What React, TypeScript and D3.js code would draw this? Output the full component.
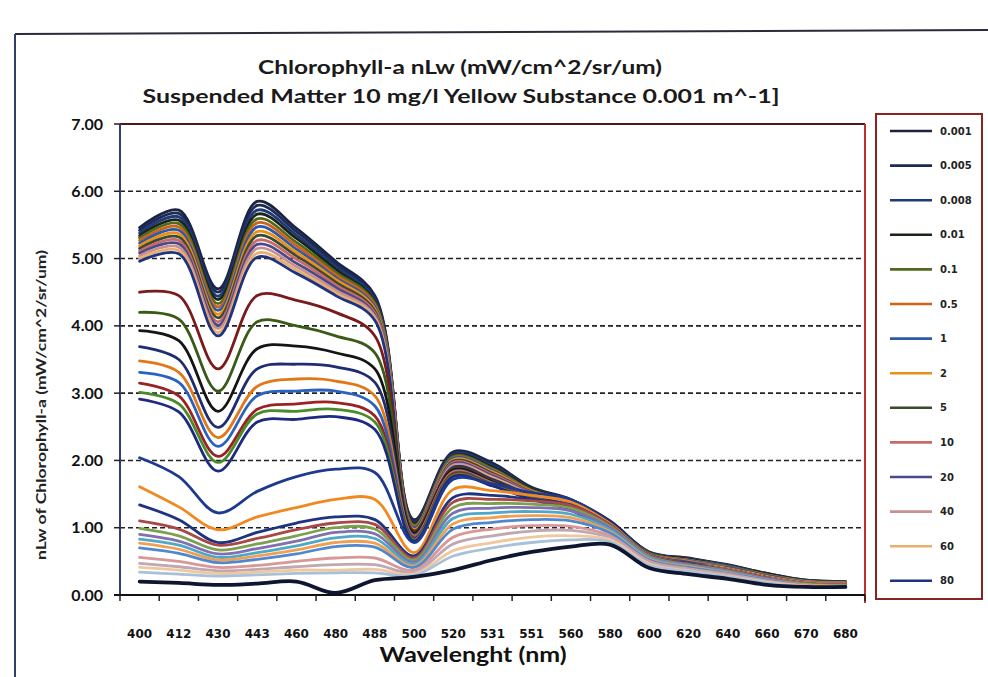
import React from "react";
import * as d3 from "d3";

// ---------- data ----------
const wavelengths = ["400","412","430","443","460","480","488","500","520","531","551","560","580","600","620","640","660","670","680"];
const yTicks = [0, 1, 2, 3, 4, 5, 6, 7];
const gridValues = [1, 2, 3, 4, 5, 6];

const legendLabels = ["0.001","0.005","0.008","0.01","0.1","0.5","1","2","5","10","20","40","60","80"];

// upper bundle (first 14 series, the ones listed in the legend)
const bundleSeries: number[][] = [
  [5.46,5.72,4.55,5.85,5.45,4.96,4.45,1.12,2.13,1.96,1.60,1.42,1.10,0.64,0.55,0.45,0.32,0.22,0.20],
  [5.42,5.67,4.50,5.79,5.40,4.92,4.42,1.10,2.11,1.94,1.59,1.41,1.09,0.63,0.54,0.44,0.32,0.22,0.20],
  [5.38,5.62,4.44,5.72,5.35,4.88,4.39,1.08,2.09,1.92,1.58,1.40,1.08,0.63,0.54,0.44,0.31,0.21,0.19],
  [5.34,5.57,4.39,5.66,5.30,4.84,4.36,1.06,2.07,1.90,1.57,1.40,1.07,0.62,0.53,0.43,0.31,0.21,0.19],
  [5.31,5.52,4.33,5.59,5.24,4.80,4.34,1.04,2.06,1.88,1.56,1.39,1.06,0.62,0.52,0.43,0.30,0.21,0.19],
  [5.27,5.47,4.28,5.53,5.19,4.76,4.31,1.02,2.04,1.86,1.55,1.38,1.05,0.61,0.52,0.42,0.30,0.20,0.18],
  [5.23,5.42,4.23,5.47,5.14,4.72,4.28,1.00,2.03,1.85,1.54,1.37,1.04,0.60,0.51,0.42,0.29,0.20,0.18],
  [5.19,5.37,4.17,5.40,5.09,4.69,4.25,0.97,2.01,1.83,1.54,1.37,1.04,0.60,0.50,0.41,0.29,0.20,0.18],
  [5.15,5.32,4.12,5.34,5.04,4.65,4.22,0.95,1.99,1.81,1.53,1.36,1.03,0.59,0.49,0.41,0.29,0.19,0.17],
  [5.11,5.27,4.06,5.27,4.99,4.61,4.19,0.93,1.97,1.79,1.52,1.35,1.02,0.59,0.49,0.40,0.28,0.19,0.17],
  [5.08,5.22,4.01,5.21,4.93,4.57,4.16,0.91,1.95,1.77,1.51,1.34,1.01,0.58,0.48,0.40,0.28,0.18,0.16],
  [5.04,5.17,3.96,5.15,4.88,4.53,4.14,0.89,1.93,1.75,1.50,1.34,1.00,0.57,0.47,0.39,0.27,0.18,0.16],
  [5.00,5.12,3.90,5.08,4.83,4.49,4.11,0.87,1.91,1.74,1.49,1.33,0.99,0.57,0.47,0.39,0.27,0.17,0.15],
  [4.96,5.07,3.85,5.02,4.78,4.45,4.08,0.85,1.90,1.72,1.48,1.32,0.98,0.56,0.46,0.38,0.26,0.17,0.15],
];
const bundleColors = ["#1c2340","#1c2a55","#1f3a7a","#1a2418","#4f6a1e","#d0601a","#2a5aa8","#e8901a","#3c4a30","#c86a6a","#4a4a8a","#c89090","#e8b070","#1f3480"];

// middle separated lines
const middleSeries: number[][] = [
  [4.50,4.45,3.36,4.45,4.38,4.20,3.85,0.95,1.88,1.70,1.47,1.31,0.97,0.56,0.46,0.38,0.26,0.17,0.15],
  [4.20,4.10,3.03,4.06,4.00,3.85,3.60,0.93,1.87,1.69,1.47,1.31,0.97,0.56,0.46,0.38,0.26,0.17,0.15],
  [3.93,3.78,2.73,3.66,3.70,3.60,3.36,0.92,1.86,1.68,1.46,1.30,0.96,0.55,0.45,0.37,0.25,0.16,0.14],
  [3.69,3.50,2.49,3.36,3.43,3.39,3.16,0.90,1.84,1.67,1.46,1.30,0.96,0.55,0.45,0.37,0.25,0.16,0.14],
  [3.48,3.31,2.34,3.10,3.21,3.18,2.96,0.88,1.83,1.66,1.45,1.29,0.95,0.55,0.45,0.37,0.25,0.16,0.14],
  [3.31,3.16,2.21,2.96,3.03,3.03,2.81,0.86,1.81,1.65,1.45,1.29,0.95,0.54,0.44,0.36,0.25,0.16,0.14],
  [3.15,2.96,2.06,2.76,2.84,2.86,2.66,0.84,1.80,1.64,1.44,1.28,0.94,0.54,0.44,0.36,0.24,0.15,0.13],
  [3.01,2.84,1.97,2.69,2.73,2.76,2.57,0.82,1.78,1.63,1.43,1.27,0.94,0.54,0.44,0.36,0.24,0.15,0.13],
  [2.91,2.72,1.84,2.57,2.61,2.65,2.46,0.80,1.76,1.62,1.42,1.26,0.93,0.53,0.43,0.35,0.24,0.15,0.13],
];
const middleColors = ["#7a1a1a","#3a5a18","#151515","#1e2c70","#e07818","#2a62c0","#9a2222","#4a8a2a","#1e2a80"];

// lower separated lines
const lowerSeries: number[][] = [
  [2.04,1.76,1.22,1.54,1.76,1.87,1.82,0.78,1.72,1.65,1.52,1.42,1.08,0.60,0.48,0.38,0.26,0.17,0.15],
  [1.61,1.31,0.97,1.16,1.30,1.42,1.42,0.63,1.57,1.55,1.48,1.38,1.06,0.59,0.47,0.38,0.26,0.17,0.15],
  [1.34,1.12,0.78,0.93,1.07,1.16,1.12,0.58,1.45,1.48,1.42,1.34,1.04,0.58,0.47,0.37,0.25,0.16,0.14],
];
const lowerColors = ["#1e3a90","#f08a20","#1e3480"];

// pale band near the bottom
const paleSeries: number[][] = [
  [1.10,0.98,0.74,0.84,0.97,1.07,1.05,0.55,1.38,1.42,1.40,1.33,1.04,0.58,0.46,0.37,0.25,0.16,0.14],
  [0.99,0.88,0.67,0.76,0.88,1.00,0.98,0.52,1.30,1.36,1.35,1.29,1.02,0.57,0.45,0.36,0.24,0.16,0.14],
  [0.90,0.80,0.61,0.69,0.80,0.93,0.91,0.49,1.22,1.29,1.30,1.25,1.00,0.56,0.44,0.35,0.24,0.15,0.13],
  [0.83,0.74,0.56,0.63,0.73,0.85,0.84,0.46,1.14,1.22,1.24,1.20,0.97,0.55,0.43,0.34,0.23,0.15,0.13],
  [0.77,0.68,0.52,0.58,0.67,0.78,0.77,0.43,1.06,1.15,1.18,1.15,0.94,0.53,0.42,0.33,0.22,0.15,0.13],
  [0.70,0.62,0.48,0.53,0.61,0.72,0.71,0.41,0.98,1.08,1.12,1.10,0.92,0.52,0.41,0.32,0.22,0.14,0.12],
  [0.56,0.50,0.41,0.44,0.50,0.55,0.55,0.37,0.86,0.98,1.03,1.02,0.88,0.50,0.39,0.31,0.21,0.14,0.12],
  [0.47,0.42,0.36,0.38,0.42,0.45,0.45,0.34,0.76,0.88,0.95,0.96,0.85,0.48,0.38,0.30,0.20,0.13,0.12],
  [0.41,0.37,0.32,0.34,0.37,0.37,0.38,0.31,0.66,0.78,0.86,0.88,0.82,0.46,0.36,0.28,0.19,0.13,0.11],
  [0.34,0.31,0.28,0.30,0.32,0.33,0.33,0.29,0.58,0.70,0.78,0.82,0.79,0.44,0.35,0.27,0.18,0.12,0.11],
];
const paleColors = ["#a84848","#7aa050","#8070b0","#50a8c8","#f0a050","#5088d0","#d89898","#c0a8b0","#f0c8a0","#a8c0d8"];

// lowest dark line
const baseSeries: number[] = [0.20,0.18,0.15,0.17,0.20,0.03,0.22,0.27,0.37,0.52,0.64,0.72,0.75,0.40,0.31,0.24,0.15,0.12,0.12];
const baseColor = "#0e1630";

// ---------- layout ----------
const W = 988, H = 677;
const PL = 120, PR = 865, PT = 124, PB = 595;

export default function App() {
  const x = d3.scaleBand<string>().domain(wavelengths).range([PL, PR]).paddingInner(0).paddingOuter(0);
  const y = d3.scaleLinear().domain([0, 7]).range([PB, PT]);
  const cx = (i: number) => (x(wavelengths[i]) as number) + x.bandwidth() / 2;
  const line = d3.line<number>().x((_, i) => cx(i)).y(d => y(d)).curve(d3.curveCatmullRom.alpha(0.5));

  const all: { vals: number[]; color: string; w: number }[] = [
    ...bundleSeries.map((v, i) => ({ vals: v, color: bundleColors[i], w: 2.8 })),
    ...middleSeries.map((v, i) => ({ vals: v, color: middleColors[i], w: 2.8 })),
    ...lowerSeries.map((v, i) => ({ vals: v, color: lowerColors[i], w: 2.8 })),
    ...paleSeries.map((v, i) => ({ vals: v, color: paleColors[i], w: 2.8 })),
    { vals: baseSeries, color: baseColor, w: 3.8 },
  ];

  const boundaries = [...wavelengths.map(w => x(w) as number), PR];
  const legendTop = 131, legendStep = 34.6;

  return (
    <svg width={W} height={H} style={{ position: "absolute", left: 0, top: 0, background: "#fff" }}
      fontFamily="Lato, 'Open Sans', sans-serif">
      <rect x={0} y={0} width={W} height={H} fill="#fff" />
      {/* outer chart frame */}
      <line x1={15} y1={34} x2={988} y2={30} stroke="#2b2b3a" strokeWidth={2} />
      <line x1={15} y1={34} x2={15} y2={677} stroke="#2d3f6a" strokeWidth={2} />

      {/* titles */}
      <text x={460} y={74} textAnchor="middle" fontSize={18} fontWeight="bold" fill="#1a1a1a"
        textLength={404} lengthAdjust="spacingAndGlyphs">Chlorophyll-a nLw (mW/cm^2/sr/um)</text>
      <text x={461} y={103} textAnchor="middle" fontSize={18} fontWeight="bold" fill="#1a1a1a"
        textLength={637} lengthAdjust="spacingAndGlyphs">Suspended Matter 10 mg/l  Yellow Substance 0.001 m^-1]</text>

      {/* gridlines */}
      {gridValues.map(v => (
        <line key={v} x1={PL} x2={PR} y1={y(v)} y2={y(v)} stroke="#222" strokeWidth={1.6} strokeDasharray="5,3" />
      ))}

      {/* plot border */}
      <line x1={PL} x2={PR} y1={PT} y2={PT} stroke="#4a1a1a" strokeWidth={2} />
      <line x1={PR} x2={PR} y1={PT} y2={PB + 8} stroke="#c0302a" strokeWidth={2} />

      {/* series */}
      {all.map((s, i) => (
        <path key={i} d={line(s.vals) || ""} fill="none" stroke={s.color} strokeWidth={s.w}
          strokeLinejoin="round" strokeLinecap="round" />
      ))}

      {/* y axis */}
      <line x1={PL} x2={PL} y1={PT} y2={PB} stroke="#2d3f6a" strokeWidth={2} />
      {yTicks.map(v => (
        <g key={v}>
          <line x1={PL - 6} x2={PL} y1={y(v)} y2={y(v)} stroke="#222" strokeWidth={1.5} />
          <text x={103} y={y(v)} dy="0.35em" textAnchor="end" fontSize={16} fontWeight="bold" fill="#111">
            {v.toFixed(2)}
          </text>
        </g>
      ))}
      <text transform={`translate(46, 405) rotate(-90)`} textAnchor="middle" fontSize={14} fontWeight="bold"
        fill="#222" textLength={310} lengthAdjust="spacingAndGlyphs">nLw of Chlorophyll-a (mW/cm^2/sr/um)</text>

      {/* x axis */}
      <line x1={PL - 6} x2={PR} y1={PB} y2={PB} stroke="#111" strokeWidth={2} />
      {boundaries.map((b, i) => (
        <line key={i} x1={b} x2={b} y1={PB} y2={PB + 6} stroke="#222" strokeWidth={1.5} />
      ))}
      {wavelengths.map((w, i) => (
        <text key={w + i} x={cx(i)} y={638} textAnchor="middle" fontSize={12} fontWeight="bold"
          fontFamily="'DejaVu Sans', sans-serif" fill="#111" textLength={25} lengthAdjust="spacingAndGlyphs">{w}</text>
      ))}
      <text x={473} y={662} textAnchor="middle" fontSize={21} fontWeight="bold" fill="#111"
        textLength={187} lengthAdjust="spacingAndGlyphs">Wavelenght (nm)</text>

      {/* legend */}
      <rect x={876} y={114} width={106} height={485} fill="#fff" stroke="#8a2420" strokeWidth={2} />
      {legendLabels.map((lab, i) => (
        <g key={lab + i}>
          <line x1={890} x2={932} y1={legendTop + i * legendStep} y2={legendTop + i * legendStep}
            stroke={bundleColors[i]} strokeWidth={2.6} />
          <text x={940} y={legendTop + i * legendStep} dy="0.35em" fontSize={10} fontWeight="bold"
            fontFamily="'DejaVu Sans', sans-serif" fill="#222">{lab}</text>
        </g>
      ))}
    </svg>
  );
}
